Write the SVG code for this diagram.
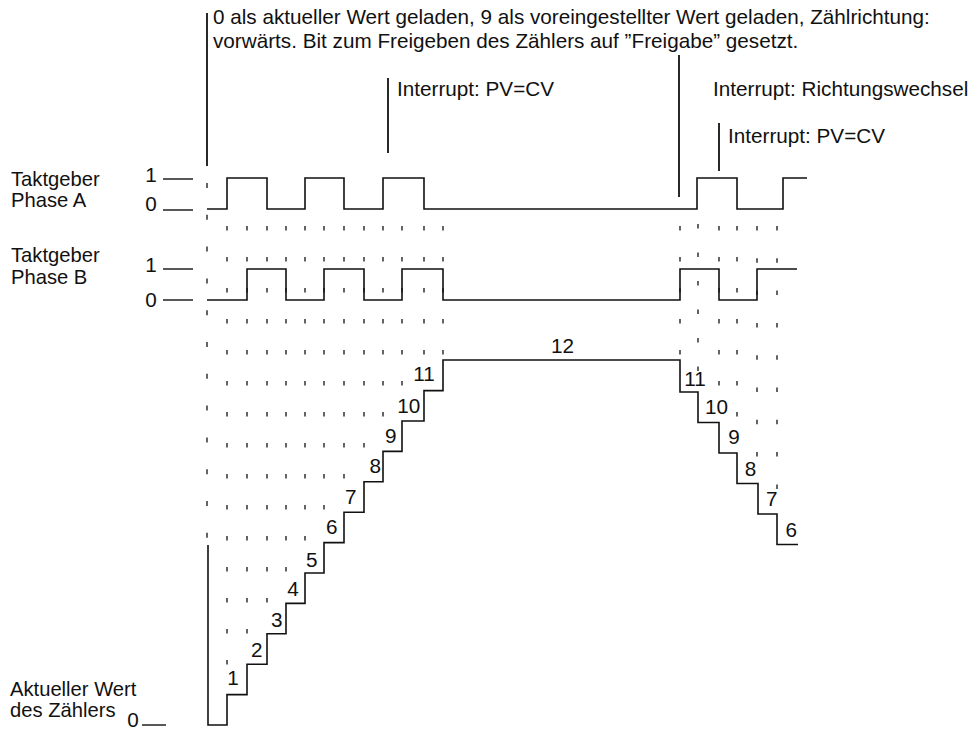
<svg xmlns="http://www.w3.org/2000/svg" width="975" height="731" viewBox="0 0 975 731">
<style>
text{font-family:"Liberation Sans",Arial,sans-serif;font-size:20.7px;fill:#111}
.lab{font-size:20.2px}
.sig{fill:none;stroke:#111;stroke-width:1.6}
.mk{stroke:#111;stroke-width:1.8}
.lvl{stroke:#111;stroke-width:1.4}
.tk{stroke:#111;stroke-width:1.3;stroke-dasharray:4.5 26.5}
.tk2{stroke:#111;stroke-width:1.3;stroke-dasharray:4.5 27.8}
.m{text-anchor:middle}
</style>
<rect width="975" height="731" fill="#fff"/>
<g id="annotations">
<line class="mk" x1="207" y1="13" x2="207" y2="166"/>
<text x="213" y="24">0 als aktueller Wert geladen, 9 als voreingestellter Wert geladen, Zählrichtung:</text>
<text x="213" y="48">vorwärts. Bit zum Freigeben des Zählers auf ”Freigabe” gesetzt.</text>
<line class="mk" x1="388" y1="78" x2="388" y2="153"/>
<text x="397" y="96">Interrupt: PV=CV</text>
<line class="mk" x1="679" y1="55" x2="679" y2="197"/>
<text x="713" y="96">Interrupt: Richtungswechsel</text>
<line class="mk" x1="719" y1="123" x2="719" y2="171"/>
<text x="728" y="142.6">Interrupt: PV=CV</text>
</g>
<g id="grid">
<line class="tk" x1="207" y1="183" x2="207" y2="541" style="stroke-dasharray:5 26.8"/>
<line class="tk" x1="227" y1="226" x2="227" y2="672"/>
<line class="tk" x1="247" y1="226" x2="247" y2="642"/>
<line class="tk" x1="267" y1="226" x2="267" y2="612"/>
<line class="tk" x1="286" y1="226" x2="286" y2="581"/>
<line class="tk" x1="305" y1="226" x2="305" y2="551"/>
<line class="tk" x1="324" y1="226" x2="324" y2="520"/>
<line class="tk" x1="344" y1="226" x2="344" y2="490"/>
<line class="tk" x1="364" y1="226" x2="364" y2="460"/>
<line class="tk" x1="383" y1="226" x2="383" y2="429"/>
<line class="tk" x1="402" y1="226" x2="402" y2="399"/>
<line class="tk" x1="424" y1="226" x2="424" y2="368"/>
<line class="tk" x1="443" y1="226" x2="443" y2="356"/>
<line class="tk" x1="680" y1="226" x2="680" y2="356"/>
<line class="tk" x1="698" y1="224" x2="698" y2="372" style="stroke-dasharray:4.5 24"/>
<line class="tk" x1="719" y1="226" x2="719" y2="397"/>
<line class="tk" x1="737" y1="226" x2="737" y2="422"/>
<line class="tk2" x1="757" y1="226" x2="757" y2="460"/>
<line class="tk2" x1="777" y1="226" x2="777" y2="492"/>
</g>
<g id="phaseA">
<text class="lab" x="11" y="186">Taktgeber</text>
<text class="lab" x="11" y="207">Phase A</text>
<text class="m" x="151" y="182">1</text>
<text class="m" x="151" y="210.5">0</text>
<line class="lvl" x1="163" y1="179" x2="193" y2="179"/>
<line class="lvl" x1="163" y1="210" x2="193" y2="210"/>
<path class="sig" d="M207,209 H227 V178 H267 V209 H305 V178 H344 V209 H383 V178 H424 V209 H697 V178 H737 V209 H783 V178 H807"/>
</g>
<g id="phaseB">
<text class="lab" x="11" y="262">Taktgeber</text>
<text class="lab" x="11" y="284">Phase B</text>
<text class="m" x="151" y="272">1</text>
<text class="m" x="151" y="307">0</text>
<line class="lvl" x1="163" y1="269" x2="193" y2="269"/>
<line class="lvl" x1="163" y1="300" x2="193" y2="300"/>
<path class="sig" d="M207,300 H247 V269 H286 V300 H324 V269 H364 V300 H402 V269 H443 V300 H680 V269 H719 V300 H757 V269 H797"/>
</g>
<g id="counter">
<text class="lab" x="10" y="696">Aktueller Wert</text>
<text class="lab" x="10" y="717">des Zählers</text>
<text class="m" x="133" y="727">0</text>
<line class="lvl" x1="142" y1="725" x2="166" y2="725"/>
<path class="sig" d="M208,545 V725 H227 V694.6 H247 V664.2 H267 V633.8 H286 V603.4 H305 V573 H324 V542.6 H344 V512.2 H364 V481.8 H383 V451.4 H402 V421 H424 V390.6 H443 V360 H680 V392 H698 V422.5 H719 V453 H737 V483.5 H758 V514 H777 V544.5 H798"/>
<text class="m" x="233" y="685">1</text>
<text class="m" x="256.7" y="657">2</text>
<text class="m" x="276.7" y="627">3</text>
<text class="m" x="293" y="596">4</text>
<text class="m" x="311.7" y="567">5</text>
<text class="m" x="331.7" y="534">6</text>
<text class="m" x="350.8" y="504">7</text>
<text class="m" x="375.3" y="473">8</text>
<text class="m" x="390.7" y="443">9</text>
<text class="m" x="408.7" y="413">10</text>
<text class="m" x="424" y="381">11</text>
<text class="m" x="562.5" y="353">12</text>
<text class="m" x="695" y="386">11</text>
<text class="m" x="716.5" y="414">10</text>
<text class="m" x="734" y="444">9</text>
<text class="m" x="750.5" y="476">8</text>
<text class="m" x="771.8" y="506">7</text>
<text class="m" x="791.3" y="537">6</text>
</g>
</svg>
